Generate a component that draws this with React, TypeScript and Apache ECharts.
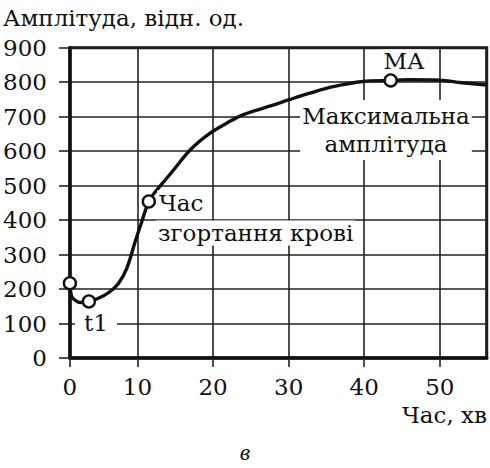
import React, { useEffect, useRef } from "react";
import * as echarts from "echarts";

// Time, min (first value sits on the y axis, labelled "0")
const timeMin = [1.06, 1.3, 1.8, 2.4, 3.57, 4.9, 6.2, 7.5, 8.6, 9.7, 10.5, 11.5, 12.4, 13.7, 14.8, 17.0, 19.6, 21.8, 24.0, 27.6, 30.2, 32.8, 35.9, 39.8, 43.5, 46.0, 50.0, 52.6, 56.2];
// Amplitude, rel. units
const amplitude = [217, 178, 167, 161, 164, 174, 190, 217, 261, 338, 391, 454, 483, 517, 546, 604, 652, 681, 706, 731, 750, 768, 787, 802, 805, 807, 806, 799, 792];

// Marked points: start, t1, clotting time, MA
const markedTime = [1.06, 3.57, 11.5, 43.5];
const markedAmp = [217, 164, 454, 805];

const xMin = 1.06;
const xMax = 56.2;
const yTicks = [0, 100, 200, 300, 400, 500, 600, 700, 800, 900];

const FONT = '"DejaVu Serif", "Liberation Serif", serif';
const INK = "#111";

export default function App() {
  const ref = useRef<HTMLDivElement>(null);
  useEffect(() => {
    if (!ref.current) return;
    const chart = echarts.init(ref.current, null, { renderer: "svg" });
    const txt = (extra: any) => ({
      type: "text",
      z: 100,
      ...extra,
      style: {
        font: `23px ${FONT}`,
        fill: INK,
        ...extra.style,
      },
    });
    chart.setOption({
      animation: false,
      backgroundColor: "#fff",
      grid: {
        left: 69.3,
        right: 3.3,
        top: 47.7,
        bottom: 110,
        show: true,
        borderColor: INK,
        borderWidth: 3,
      },
      xAxis: {
        type: "value",
        min: xMin,
        max: xMax,
        axisLine: { show: true, lineStyle: { color: INK, width: 3.5 } },
        axisTick: { show: true, length: 9, lineStyle: { color: "#222", width: 1.6 } },
        splitLine: { show: true, lineStyle: { color: "#222", width: 1.6 } },
        axisLabel: {
          fontFamily: FONT,
          fontSize: 23,
          color: INK,
          margin: 17,
          showMaxLabel: false,
          formatter: (v: number) => (v < 5 ? "0" : String(Math.round(v))),
        },
      },
      yAxis: {
        type: "value",
        min: yTicks[0],
        max: yTicks[yTicks.length - 1],
        interval: 100,
        axisLine: { show: true, lineStyle: { color: INK, width: 3.5 } },
        axisTick: { show: true, length: 11, lineStyle: { color: "#222", width: 1.6 } },
        splitLine: { show: true, lineStyle: { color: "#222", width: 1.6 } },
        axisLabel: {
          fontFamily: FONT,
          fontSize: 23,
          color: INK,
          margin: 23,
        },
      },
      series: [
        {
          type: "line",
          data: timeMin.map((t, i) => [t, amplitude[i]]),
          smooth: 0.35,
          showSymbol: false,
          lineStyle: { color: "#111", width: 3.4 },
          z: 3,
        },
        {
          type: "scatter",
          data: markedTime.map((t, i) => [t, markedAmp[i]]),
          symbol: "circle",
          symbolSize: 12,
          itemStyle: { color: "#fff", borderColor: "#111", borderWidth: 2.4, opacity: 1 },
          z: 4,
        },
      ],
      graphic: [
        txt({ x: 3, y: 18, style: { text: "Амплітуда, відн. од.", verticalAlign: "middle", align: "left" } }),
        txt({ x: 404, y: 61, style: { text: "МА", align: "center", verticalAlign: "middle", backgroundColor: "#fff", padding: [0, 3] } }),
        txt({ x: 386, y: 130, style: { text: "Максимальна\nамплітуда", align: "center", verticalAlign: "middle", lineHeight: 28, backgroundColor: "#fff", padding: [2, 2] } }),
        txt({ x: 157, y: 203, style: { text: "Час", align: "left", verticalAlign: "middle", backgroundColor: "#fff", padding: [1, 2] } }),
        txt({ x: 156, y: 233, style: { text: "згортання крові", align: "left", verticalAlign: "middle", backgroundColor: "#fff", padding: [1, 2] } }),
        txt({ x: 96, y: 323, style: { text: "t1", align: "center", verticalAlign: "middle", backgroundColor: "#fff", padding: [0, 9] } }),
        txt({ x: 487, y: 415, style: { text: "Час, хв", align: "right", verticalAlign: "middle" } }),
        txt({ x: 245, y: 452, style: { text: "в", align: "center", verticalAlign: "middle", font: `italic 24px "Liberation Serif", serif` } }),
      ],
    });
    return () => chart.dispose();
  }, []);
  return <div ref={ref} style={{ position: "fixed", left: 0, top: 0, width: 490, height: 468 }} />;
}
